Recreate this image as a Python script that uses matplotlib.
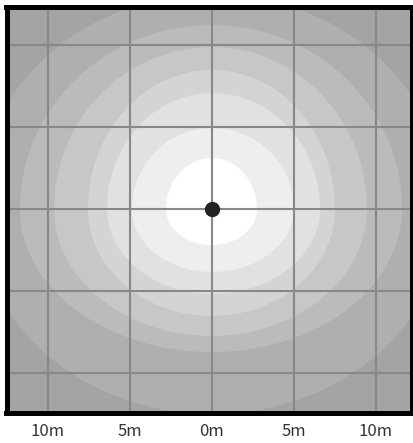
import numpy as np
import matplotlib.pyplot as plt

plt.rcParams['font.family'] = ['Noto Sans CJK JP', 'DejaVu Sans']

# contour boundaries (metres from the marker): right, top, left, bottom, inner -> outer
ring_right = [2.74, 5.00, 6.59, 7.50, 9.45, 11.59, 14.33]
ring_top = [3.11, 4.94, 7.07, 8.48, 9.88, 11.22, 13.11]
ring_left = [2.80, 4.88, 6.40, 7.56, 9.63, 11.71, 14.33]
ring_bottom = [2.20, 3.84, 5.18, 6.52, 7.74, 8.72, 12.50]
# gray level inside each boundary, then the outside level
ring_gray = [255, 238, 225, 212, 199, 187, 175]
outside_gray = 164

tick_pos = [-10, -5, 0, 5, 10]
tick_labels = ['10m', '5m', '0m', '5m', '10m']

fig = plt.figure(figsize=(4.13, 4.43), dpi=100)
ax = fig.add_axes([6.5 / 413, 30 / 443, 405.5 / 413, 406.5 / 443])

g = outside_gray / 255
ax.set_facecolor((g, g, g))

th = np.linspace(0, 2 * np.pi, 361)
c, s = np.cos(th), np.sin(th)
for i in reversed(range(len(ring_right))):
    rx = np.where(c >= 0, ring_right[i], ring_left[i])
    ry = np.where(s >= 0, ring_top[i], ring_bottom[i])
    g = ring_gray[i] / 255
    ax.fill(rx * c, ry * s, color=(g, g, g), lw=0, zorder=1)

ax.set_xlim(-12.53, 12.2)
ax.set_ylim(-12.44, 12.35)
ax.set_xticks(tick_pos)
ax.set_xticklabels(tick_labels)
ax.set_yticks(tick_pos)
ax.set_yticklabels([])
ax.tick_params(length=0, pad=7, labelsize=12, labelcolor='#333333')
ax.grid(True, color='#888888', lw=1.5)
for gl in ax.get_xgridlines() + ax.get_ygridlines():
    gl.set_zorder(2)

ax.plot([0], [0], 'o', color='#222222', ms=10, zorder=3)

for sp in ax.spines.values():
    sp.set_linewidth(3.6)
    sp.set_color('black')
    sp.set_zorder(4)

fig.savefig('out.png', dpi=100)
